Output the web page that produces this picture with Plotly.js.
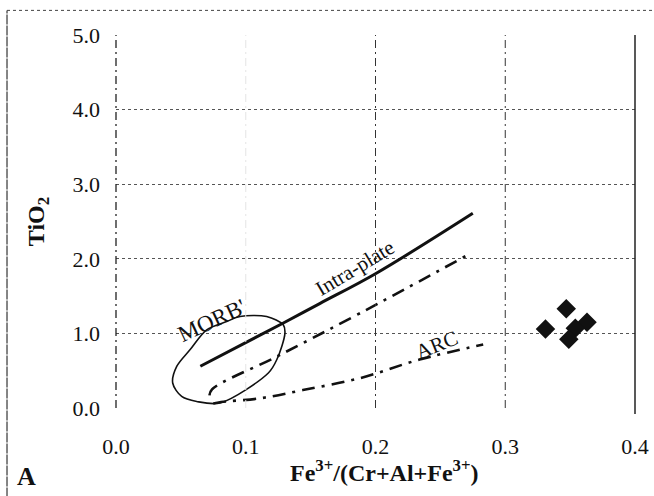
<!DOCTYPE html>
<html>
<head>
<meta charset="utf-8">
<script src="https://cdn.plot.ly/plotly-3.0.1.min.js"></script>
<style>html,body{margin:0;padding:0;background:#fff;}#chart{width:654px;height:496px;}</style>
</head>
<body>
<div id="chart"></div>
<script>
// Sample data (diamonds)
const sampleX = [0.331, 0.347, 0.363, 0.354, 0.349];
const sampleY = [1.06, 1.33, 1.15, 1.07, 0.92];

// Intra-plate field line (solid)
const intraX = [0.065, 0.129, 0.157, 0.200, 0.275];
const intraY = [0.56, 1.14, 1.40, 1.80, 2.61];

// Upper dash-dot line
const upperX = [0.072, 0.074, 0.124, 0.188, 0.272];
const upperY = [0.17, 0.25, 0.69, 1.27, 2.06];

// ARC dash-dot line
const arcX = [0.075, 0.081, 0.111, 0.144, 0.188, 0.234, 0.283];
const arcY = [0.06, 0.08, 0.13, 0.24, 0.40, 0.65, 0.85];

// MORB field outline
const morbX = [0.0437, 0.0468, 0.0570, 0.0699, 0.0853, 0.0956, 0.1161, 0.1289, 0.1302, 0.1239, 0.1174, 0.0802, 0.0622, 0.0506, 0.0437];
const morbY = [0.335, 0.557, 0.780, 1.048, 1.159, 1.226, 1.226, 1.115, 1.004, 0.647, 0.469, 0.067, 0.088, 0.155, 0.335];

const xTicks = [0, 0.1, 0.2, 0.3, 0.4];
const yTicks = [0, 1, 2, 3, 4, 5];

const serif = "Liberation Serif";
const ink = "#111";

const traces = [
  {x: morbX, y: morbY, mode: "lines", line: {color: ink, width: 1.6, shape: "spline", smoothing: 0.9}, hoverinfo: "skip"},
  {x: intraX, y: intraY, mode: "lines", line: {color: ink, width: 3, shape: "spline"}, hoverinfo: "skip"},
  {x: upperX, y: upperY, mode: "lines", line: {color: ink, width: 2.6, dash: "13px,7px,3px,7px", shape: "spline"}, hoverinfo: "skip"},
  {x: arcX, y: arcY, mode: "lines", line: {color: ink, width: 2.6, dash: "13px,7px,3px,7px", shape: "spline"}, hoverinfo: "skip"},
  {x: sampleX, y: sampleY, mode: "markers", marker: {symbol: "diamond", size: 15, color: ink}, hoverinfo: "skip"}
];

// vertical grid lines: 0.1 is faint in the original, 0.2 and 0.3 dark dash-dot
const vGrid = xTicks.filter(v => v > 0.05 && v < 0.35).map(v => ({
  type: "line", xref: "x", yref: "paper", x0: v, x1: v, y0: 0, y1: 1,
  line: {color: v < 0.15 ? "#e4e4e4" : "#333", width: 1, dash: "8px,4px,2px,4px"}
}));

const layout = {
  width: 654, height: 496,
  margin: {l: 116, r: 19, t: 35, b: 88},
  paper_bgcolor: "#fff", plot_bgcolor: "#fff",
  showlegend: false,
  font: {family: serif, color: ink},
  xaxis: {
    range: [0, 0.4], tickvals: xTicks, tickformat: ".1f",
    showgrid: false,
    zeroline: false, showline: false, ticks: "",
    ticklabelstandoff: 23,
    tickfont: {family: serif, size: 22, color: ink}
  },
  yaxis: {
    range: [0, 5], tickvals: yTicks, tickformat: ".1f",
    showgrid: true, gridcolor: "#555", gridwidth: 1, griddash: "dot",
    zeroline: false, showline: false, ticks: "",
    ticklabelstandoff: 15,
    tickfont: {family: serif, size: 22, color: ink}
  },
  shapes: vGrid.concat([
    {type: "line", xref: "paper", yref: "paper", x0: 0, x1: 0, y0: 0, y1: 1, line: {color: "#222", width: 1.3, dash: "8px,4px,2px,4px"}},
    {type: "line", xref: "paper", yref: "paper", x0: 1, x1: 1, y0: -0.016, y1: 1, line: {color: "#222", width: 1.5}},
    {type: "line", xref: "paper", yref: "paper", x0: -0.21, x1: 1.04, y0: 1.066, y1: 1.066, line: {color: "#444", width: 1, dash: "dot"}},
    {type: "line", xref: "paper", yref: "paper", x0: -0.21, x1: -0.21, y0: -0.24, y1: 1.066, line: {color: "#444", width: 1.3, dash: "10px,1px"}}
  ]),
  annotations: [
    {xref: "paper", yref: "paper", x: -0.151, y: 0.5, xanchor: "center", yanchor: "middle", text: "<b>TiO<sub>2</sub></b>", showarrow: false, textangle: -90, font: {family: serif, size: 24, color: ink}},
    {xref: "paper", yref: "paper", x: 0.518, y: -0.17, xanchor: "center", yanchor: "middle", text: "<b>Fe<sup>3+</sup>/(Cr+Al+Fe<sup>3+</sup>)</b>", showarrow: false, font: {family: serif, size: 24, color: ink}},
    {xref: "paper", yref: "paper", x: -0.172, y: -0.228, xanchor: "center", yanchor: "bottom", text: "<b>A</b>", showarrow: false, font: {family: serif, size: 26, color: ink}},
    {x: 0.074, y: 1.17, text: "MORB'", showarrow: false, textangle: -25, font: {family: serif, size: 23, color: ink}},
    {x: 0.184, y: 1.88, text: "Intra-plate", showarrow: false, textangle: -31, font: {family: serif, size: 21, color: ink}},
    {x: 0.247, y: 0.85, text: "ARC", showarrow: false, textangle: -22, font: {family: serif, size: 21, color: ink}}
  ]
};

Plotly.newPlot("chart", traces, layout, {staticPlot: true, displayModeBar: false});
</script>
</body>
</html>
